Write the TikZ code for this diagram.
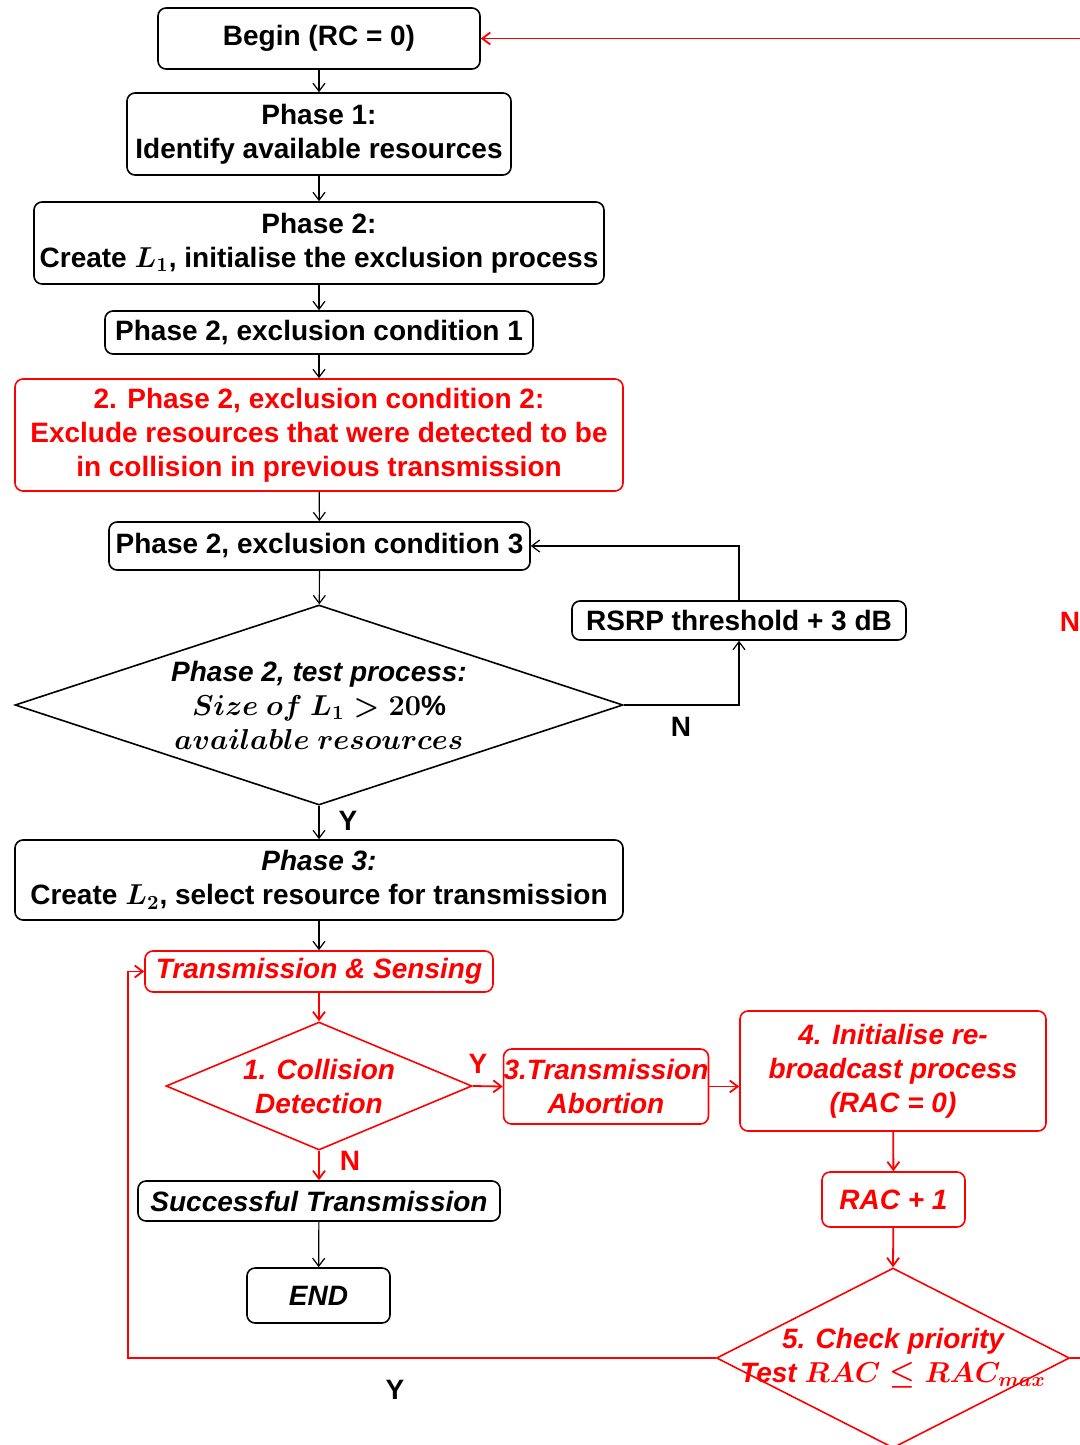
\documentclass[tikz,border=0pt]{standalone}
\usepackage{fontspec}
\setmainfont{Liberation Sans}
\usetikzlibrary{arrows.meta, shapes.geometric, positioning}
\tikzset{%
>={Straight Barb[length=4pt,width=6pt]},
  % Specifications for style of nodes:
            base/.style = {rectangle, rounded corners=4pt, draw=black,
                            line width=0.8pt, align=center, inner sep=0pt,
                            font=\fontsize{14}{17}\selectfont\bfseries\boldmath},
            alarm/.style = {base, draw=red, text=red},
            decision/.style = {diamond, draw=black, line width=0.8pt,
                            align=center, inner sep=0pt,
                            font=\fontsize{14}{17}\selectfont\bfseries\boldmath},
            yn/.style = {inner sep=0pt, font=\fontsize{14}{17}\selectfont\bfseries},
            link/.style = {->, line width=0.6pt},
            redlink/.style = {->, line width=0.9pt, draw=red}
}

\begin{document}
\begin{tikzpicture}[x=0.5pt, y=-0.5pt]
                \useasboundingbox (0,0) rectangle (1080,1445);

                % phases 1 and 2
                \node[base, minimum width=161pt, minimum height=30.5pt] (begin) at (319,38.5) {Begin (RC = 0)};
                \node[base, minimum width=192pt, minimum height=41pt] (ph1) at (319,134) {Phase 1:\\Identify available resources};
                \node[base, minimum width=285pt, minimum height=41pt] (ph2) at (319,243) {Phase 2:\\Create $L_1$, initialise the exclusion process};
                \node[base, minimum width=214pt, minimum height=21.5pt] (cond1) at (319,332.5) {Phase 2, exclusion condition 1};
                \node[alarm, minimum width=304pt, minimum height=56pt] (cond2) at (319,435) {2. Phase 2, exclusion condition 2:\\Exclude resources that were detected to be\\in collision in previous transmission};
                \node[base, minimum width=210.5pt, minimum height=24pt] (cond3) at (319.5,546) {Phase 2, exclusion condition 3};
                \node[decision, aspect=3.04, minimum width=304pt, minimum height=100pt] (test) at (319,705)
                    {\itshape Phase 2, test process:\\$Size\ of\ L_1 > 20\%$\\$available\ resources$};
                \node[base, minimum width=167pt, minimum height=19.5pt] (rsrp) at (739,620.5) {RSRP threshold + 3 dB};

                % phase 3
                \node[base, minimum width=304pt, minimum height=40pt] (ph3) at (319,880) {\itshape Phase 3:\\Create $L_2$, select resource for transmission};
                \node[alarm, minimum width=174pt, minimum height=20.5pt, font=\fontsize{14}{17}\selectfont\bfseries\itshape] (txs) at (319,971.5) {Transmission \& Sensing};
                \node[decision, draw=red, text=red, aspect=2.39, minimum width=153pt, minimum height=64pt, font=\fontsize{14}{17}\selectfont\bfseries\itshape] (coll) at (319,1086) {1. Collision\\Detection};
                \node[alarm, minimum width=102pt, minimum height=37.5pt, font=\fontsize{14}{17}\selectfont\bfseries\itshape] (abort) at (606,1086.5) {3.Transmission\\Abortion};
                \node[alarm, minimum width=153pt, minimum height=60pt, font=\fontsize{14}{17}\selectfont\bfseries\itshape] (rebc) at (893,1071) {4. Initialise re-\\broadcast process\\(RAC = 0)};
                \node[alarm, minimum width=71.5pt, minimum height=27.5pt, font=\fontsize{14}{17}\selectfont\bfseries\itshape] (racinc) at (893.5,1199.5) {RAC + 1};
                \node[decision, draw=red, text=red, aspect=1.96, inner xsep=-18pt, minimum width=176.5pt, minimum height=90pt, font=\fontsize{14}{17}\selectfont\bfseries\itshape\boldmath] (prio) at (893,1358) {5. Check priority\\Test $RAC \le RAC_{max}$};
                \node[base, minimum width=181pt, minimum height=20pt, font=\fontsize{14}{17}\selectfont\bfseries\itshape] (succ) at (319,1201) {Successful Transmission};
                \node[base, minimum width=71.5pt, minimum height=27.5pt, font=\fontsize{14}{17}\selectfont\bfseries\itshape] (fin) at (318.5,1295.5) {END};

                \coordinate (top) at (1080,38.5);
                \coordinate (back) at (128,1358);
                \coordinate (edge) at (1080,1358);

                % black connectors
                \draw[link] (begin) -- (ph1);
                \draw[link] (ph1) -- (ph2);
                \draw[link] (ph2) -- (cond1);
                \draw[link] (cond1) -- (cond2);
                \draw[link] (cond2) -- (cond3);
                \draw[link] (cond3) -- (test);
                \draw[link] (test.east) -| (rsrp.south);
                \draw[link] (rsrp.north) |- (cond3.east);
                \draw[link] (test.south) -- (ph3.north);
                \draw[link] (ph3) -- (txs);
                \draw[link] (succ) -- (fin);

                % red connectors
                \draw[redlink] (top) -- (begin.east);
                \draw[redlink] (txs) -- (coll.north);
                \draw[redlink] (coll.south) -- (succ.north);
                \draw[redlink] (coll.east) -- (abort.west);
                \draw[redlink] (abort.east) -- (abort.east -| rebc.west);
                \draw[redlink] (rebc) -- (racinc);
                \draw[redlink] (racinc) -- (prio.north);
                \draw[redlink] (prio.west) -- (back) |- (txs.west);
                \draw[red, line width=0.9pt] (prio.east) -- (edge);

                % Y / N marks
                \node[yn] (n1) at (681,727) {N};
                \node[yn] (y1) at (348,821) {Y};
                \node[yn, text=red] (y2) at (478,1064) {Y};
                \node[yn, text=red] (n2) at (350,1161) {N};
                \node[yn] (y3) at (395,1390) {Y};
                \node[yn, text=red] (n3) at (1070,622) {N};

            \end{tikzpicture}
\end{document}
